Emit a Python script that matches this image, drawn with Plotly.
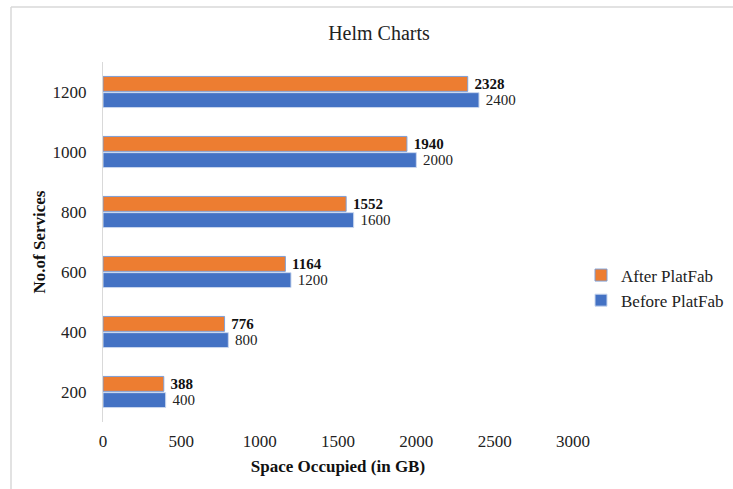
import plotly.graph_objects as go

categories = ["200", "400", "600", "800", "1000", "1200"]
before_vals = [400, 800, 1200, 1600, 2000, 2400]
after_vals = [388, 776, 1164, 1552, 1940, 2328]
x_ticks = [0, 500, 1000, 1500, 2000, 2500, 3000]

FONT = "Liberation Serif, Times New Roman, serif"
NBSP = "\u00a0"

fig = go.Figure()
fig.add_trace(go.Bar(
    y=categories, x=before_vals, orientation="h", name="Before PlatFab",
    marker=dict(color="#4472C4", line=dict(color="#C9D7EE", width=1)),
    text=[NBSP + str(v) for v in before_vals], textposition="outside",
    textfont=dict(family=FONT, size=15, color="#222"),
    constraintext="none", cliponaxis=False,
))
fig.add_trace(go.Bar(
    y=categories, x=after_vals, orientation="h", name="After PlatFab",
    marker=dict(color="#ED7D31", line=dict(color="#7E9FD6", width=1)),
    text=[NBSP + "<b>%d</b>" % v for v in after_vals], textposition="outside",
    textfont=dict(family=FONT, size=15, color="#111"),
    constraintext="none", cliponaxis=False,
))

W, H = 733, 489
L, R, T, B = 103, 160, 62, 67
pw, ph = W - L - R, H - T - B

def px2x(p):
    return (p - L) / pw

def px2y(p):
    return (H - B - p) / ph

fig.update_layout(
    width=W, height=H,
    margin=dict(l=L, r=R, t=T, b=B, autoexpand=False),
    paper_bgcolor="white", plot_bgcolor="white",
    font=dict(family=FONT, size=17, color="#222"),
    barmode="group", bargap=0.46, bargroupgap=0.08,
    title=dict(text="Helm Charts", font=dict(family=FONT, size=20, color="#222"),
               x=379 / W, xanchor="center", xref="container",
               y=1 - 33 / H, yanchor="middle", yref="container"),
    xaxis=dict(range=[0, 3000], tickvals=x_ticks, showgrid=False, zeroline=False,
               showline=False, ticks="outside", ticklen=4, tickcolor="rgba(0,0,0,0)",
               tickfont=dict(family=FONT, size=17, color="#222"),
               title=dict(text="<b>Space Occupied (in GB)</b>", standoff=9,
                          font=dict(family=FONT, size=17, color="#111"))),
    yaxis=dict(showgrid=False, zeroline=False, showline=True, linecolor="#D9D9D9",
               linewidth=1, ticks="outside", ticklen=12, tickcolor="rgba(0,0,0,0)",
               tickfont=dict(family=FONT, size=17, color="#222"),
               title=dict(text="<b>No.of Services</b>", standoff=2,
                          font=dict(family=FONT, size=17, color="#111"))),
    legend=dict(x=px2x(581), y=px2y(288), xanchor="left", yanchor="middle",
                traceorder="reversed", font=dict(family=FONT, size=17, color="#222"),
                bgcolor="rgba(0,0,0,0)", itemwidth=30, tracegroupgap=0),
    shapes=[
        dict(type="line", xref="paper", yref="paper",
             x0=px2x(11), x1=px2x(745), y0=px2y(7), y1=px2y(7),
             line=dict(color="#D9D9D9", width=1.5)),
        dict(type="line", xref="paper", yref="paper",
             x0=px2x(11), x1=px2x(11), y0=px2y(7), y1=px2y(500),
             line=dict(color="#D9D9D9", width=1.5)),
    ],
)

fig.write_html("out.html")
